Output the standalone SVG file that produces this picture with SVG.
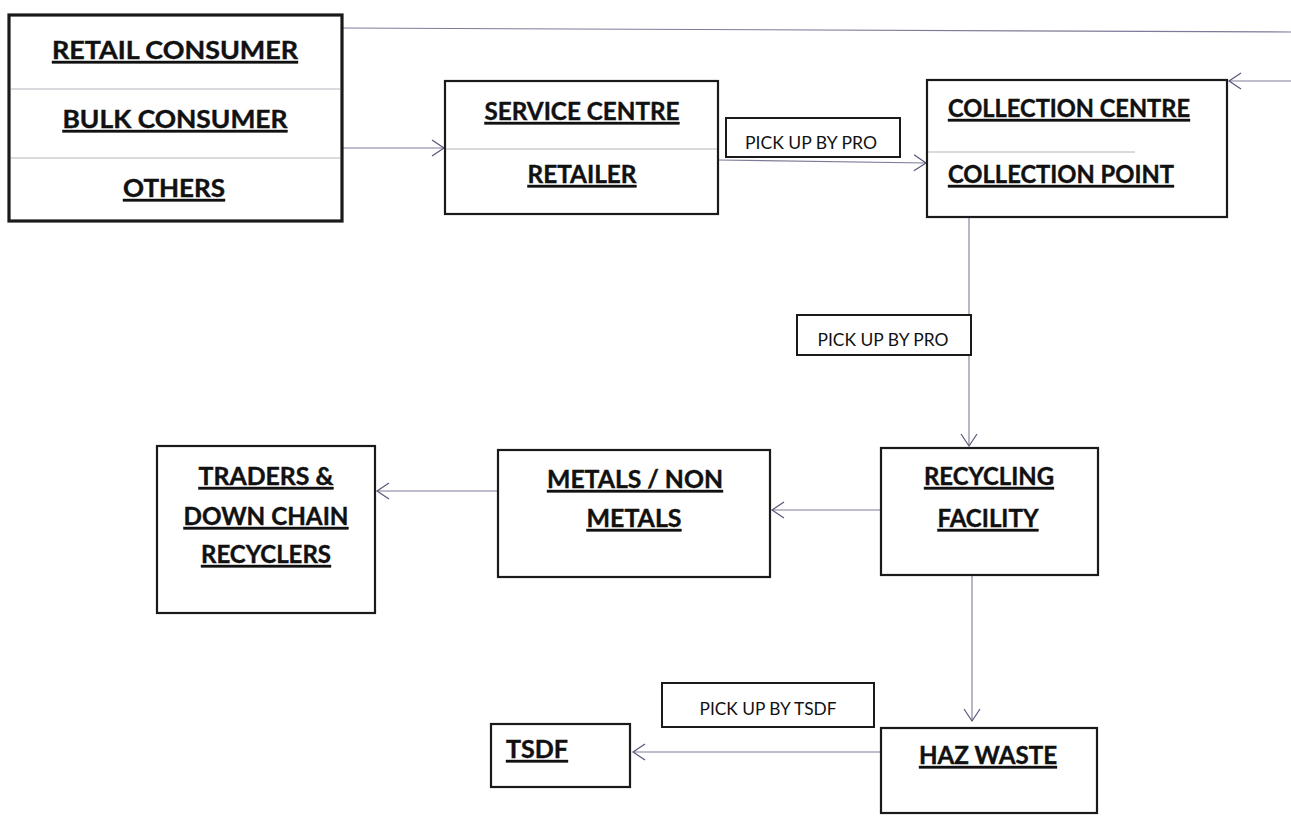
<svg xmlns="http://www.w3.org/2000/svg" width="1291" height="817" viewBox="0 0 1291 817">
<style>
.box{fill:#fff;stroke:#1a1a1a;stroke-width:2.2}
.thick{stroke-width:3.2}
.lbl{fill:#fff;stroke:#1a1a1a;stroke-width:2}
.div{stroke:#b4b4bc;stroke-width:1;fill:none}
.t{font-family:Lato,"Liberation Sans",sans-serif;font-weight:bold;font-size:24px;fill:#111;stroke:#111;stroke-width:0.4;text-decoration:underline;text-decoration-thickness:2px}
.s{font-family:Lato,"Liberation Sans",sans-serif;font-size:17px;fill:#111}
.c{text-anchor:middle}
.con{stroke:#7c7c98;stroke-width:1.1;fill:none}
</style>
<defs>
<marker id="ah" markerUnits="userSpaceOnUse" markerWidth="16" markerHeight="20" refX="13" refY="9" orient="auto">
<path d="M1,1 L13,9 L1,17" fill="none" stroke="#55557a" stroke-width="1.2"/>
</marker>
</defs>
<rect width="1291" height="817" fill="#fff"/>
<g id="connectors">
<line class="con" x1="343" y1="28" x2="1291" y2="32"/>
<line class="con" x1="1291" y1="81" x2="1229" y2="81" marker-end="url(#ah)"/>
<line class="con" x1="343" y1="148" x2="444" y2="148" marker-end="url(#ah)"/>
<line class="con" x1="718" y1="160" x2="926" y2="163" marker-end="url(#ah)"/>
<line class="con" x1="969" y1="218" x2="969" y2="446" marker-end="url(#ah)"/>
<line class="con" x1="881" y1="510" x2="772" y2="510" marker-end="url(#ah)"/>
<line class="con" x1="497" y1="491" x2="377" y2="491" marker-end="url(#ah)"/>
<line class="con" x1="972" y1="575" x2="972" y2="721" marker-end="url(#ah)"/>
<line class="con" x1="881" y1="752" x2="633" y2="752" marker-end="url(#ah)"/>
</g>
<g id="consumers">
<rect class="box thick" x="9" y="15" width="333" height="206"/>
<line class="div" x1="11" y1="89" x2="340" y2="89"/>
<line class="div" x1="11" y1="158" x2="340" y2="158"/>
<text class="t c" x="175" y="59" textLength="246" lengthAdjust="spacingAndGlyphs">RETAIL CONSUMER</text>
<text class="t c" x="175" y="128" textLength="225" lengthAdjust="spacingAndGlyphs">BULK CONSUMER</text>
<text class="t c" x="174" y="197" textLength="102" lengthAdjust="spacingAndGlyphs">OTHERS</text>
</g>
<g id="service">
<rect class="box" x="445" y="81" width="273" height="133"/>
<line class="div" x1="446" y1="149" x2="717" y2="149"/>
<text class="t c" x="582" y="120" textLength="195" lengthAdjust="spacingAndGlyphs">SERVICE CENTRE</text>
<text class="t c" x="582" y="183" textLength="109" lengthAdjust="spacingAndGlyphs">RETAILER</text>
</g>
<g id="label-pro-1">
<rect class="lbl" x="726" y="118" width="174" height="39"/>
<text class="s c" x="811" y="149" textLength="132" lengthAdjust="spacingAndGlyphs">PICK UP BY PRO</text>
</g>
<g id="collection">
<rect class="box" x="927" y="80" width="300" height="137"/>
<line class="div" x1="928" y1="152" x2="1135" y2="152"/>
<text class="t" x="948" y="117" textLength="242" lengthAdjust="spacingAndGlyphs">COLLECTION CENTRE</text>
<text class="t" x="948" y="183" textLength="226" lengthAdjust="spacingAndGlyphs">COLLECTION POINT</text>
</g>
<g id="label-pro-2">
<rect class="lbl" x="797" y="315" width="174" height="40"/>
<text class="s c" x="883" y="346" textLength="131" lengthAdjust="spacingAndGlyphs">PICK UP BY PRO</text>
</g>
<g id="traders">
<rect class="box" x="157" y="446" width="218" height="167"/>
<text class="t c" x="266" y="485" textLength="135" lengthAdjust="spacingAndGlyphs">TRADERS &amp;</text>
<text class="t c" x="266" y="525" textLength="165" lengthAdjust="spacingAndGlyphs">DOWN CHAIN</text>
<text class="t c" x="266" y="563" textLength="130" lengthAdjust="spacingAndGlyphs">RECYCLERS</text>
</g>
<g id="metals">
<rect class="box" x="498" y="450" width="272" height="127"/>
<text class="t c" x="635" y="488" textLength="176" lengthAdjust="spacingAndGlyphs">METALS / NON</text>
<text class="t c" x="634" y="527" textLength="95" lengthAdjust="spacingAndGlyphs">METALS</text>
</g>
<g id="recycling">
<rect class="box" x="881" y="448" width="217" height="127"/>
<text class="t c" x="989" y="485" textLength="130" lengthAdjust="spacingAndGlyphs">RECYCLING</text>
<text class="t c" x="988" y="527" textLength="101" lengthAdjust="spacingAndGlyphs">FACILITY</text>
</g>
<g id="label-tsdf">
<rect class="lbl" x="662" y="683" width="212" height="44"/>
<text class="s c" x="768" y="715" textLength="137" lengthAdjust="spacingAndGlyphs">PICK UP BY TSDF</text>
</g>
<g id="tsdf">
<rect class="box" x="491" y="724" width="139" height="63"/>
<text class="t" x="506" y="758" textLength="62" lengthAdjust="spacingAndGlyphs">TSDF</text>
</g>
<g id="haz">
<rect class="box" x="881" y="728" width="216" height="85"/>
<text class="t c" x="988" y="764" textLength="138" lengthAdjust="spacingAndGlyphs">HAZ WASTE</text>
</g>
</svg>
